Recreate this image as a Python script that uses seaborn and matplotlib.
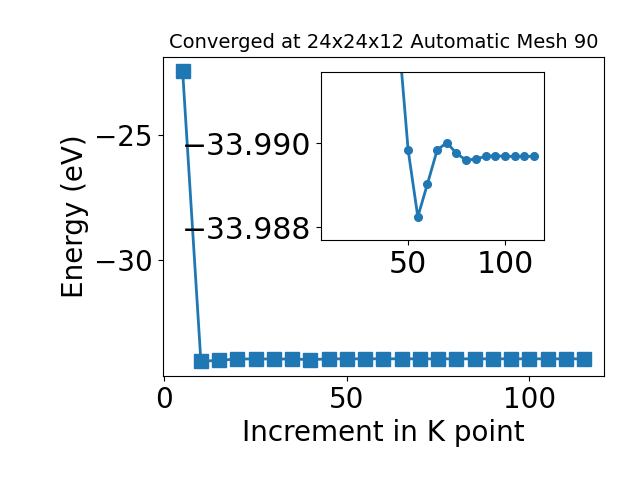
import matplotlib
matplotlib.use("Agg")
import matplotlib.pyplot as plt
import seaborn as sns
import numpy as np

kpoints = [5, 10, 15, 20, 25, 30, 35, 40, 45, 50, 55, 60, 65, 70, 75, 80,
           85, 90, 95, 100, 105, 110, 115]
energy = [-22.43, -34.09, -34.05, -33.996, -33.994, -33.995, -33.997, -34.02,
          -33.9926, -33.98984, -33.98825, -33.98904, -33.98984, -33.99002,
          -33.98976, -33.98960, -33.98963, -33.98969, -33.98971, -33.98969,
          -33.98969, -33.98969, -33.98969]

title = "Converged at 24x24x12 Automatic Mesh 90"
xlabel = "Increment in K point"
ylabel = "Energy (eV)"
color = "#1f77b4"

fig = plt.figure(figsize=(6.4, 4.8), dpi=100)
ax = fig.add_axes([0.254, 0.217, 0.69, 0.665])
sns.lineplot(x=kpoints, y=energy, marker="s", markersize=10, linewidth=2,
             color=color, markeredgecolor=color, markeredgewidth=1, ax=ax)
ax.set_title(title, fontsize=14)
ax.set_xlabel(xlabel, fontsize=20)
ax.set_ylabel(ylabel, fontsize=20)
ax.tick_params(labelsize=20)
ax.set_xticks([0, 50, 100])
ax.set_yticks([-25, -30])

ins = fig.add_axes([0.501, 0.5, 0.349, 0.35])
sns.lineplot(x=kpoints[1:], y=energy[1:], marker="o", markersize=5.5,
             linewidth=2, color=color, markeredgecolor=color,
             markeredgewidth=1, ax=ins)
ins.set_ylim(-33.9877, -33.9917)
ins.set_xticks([50, 100])
ins.set_yticks([-33.990, -33.988])
ins.tick_params(labelsize=21.5)

fig.savefig("out.png", dpi=100)
